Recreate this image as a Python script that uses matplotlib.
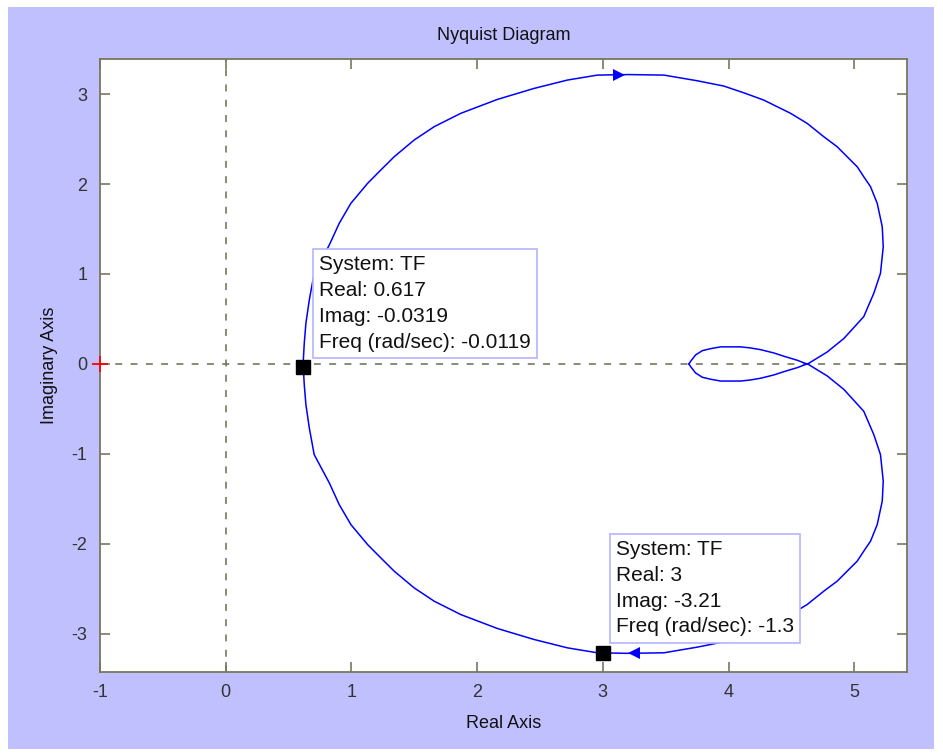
import matplotlib
matplotlib.use("Agg")
import matplotlib.pyplot as plt
from matplotlib.patches import Rectangle

# ---- data ----
# positive-frequency branch of the Nyquist curve (real, imag)
pos_re = [0.617, 0.625, 0.638, 0.665, 0.704, 0.824, 0.903, 0.996, 1.129, 1.234,
          1.340, 1.499, 1.658, 1.870, 2.162, 2.453, 2.719, 2.957, 3.200, 3.487,
          3.566, 3.752, 3.963, 4.122, 4.281, 4.494, 4.626, 4.758, 4.865, 4.970,
          5.024, 5.076, 5.130, 5.183, 5.223, 5.231, 5.209, 5.156, 5.076, 4.917,
          4.785, 4.639, 4.547, 4.440, 4.361, 4.255, 4.175, 4.096, 3.937, 3.858,
          3.792, 3.738, 3.699, 3.685]
pos_im = [0.032, 0.230, 0.452, 0.711, 1.008, 1.322, 1.563, 1.786, 2.008, 2.156,
          2.303, 2.489, 2.637, 2.786, 2.941, 3.063, 3.156, 3.211, 3.217, 3.211,
          3.192, 3.148, 3.089, 3.014, 2.933, 2.786, 2.674, 2.526, 2.414, 2.267,
          2.192, 2.081, 1.970, 1.786, 1.526, 1.303, 1.008, 0.786, 0.526, 0.282,
          0.133, 0.008, -0.041, -0.086, -0.122, -0.159, -0.178, -0.190, -0.190, -0.170,
          -0.148, -0.100, -0.030, 0.0]
# negative-frequency branch is the complex conjugate
neg_re = pos_re
neg_im = [-v for v in pos_im]

arrow_re = [3.13, 3.25]
arrow_im = [3.21, -3.21]
arrow_markers = ['>', '<']

tip_re = [0.617, 3.0]
tip_im = [-0.0319, -3.21]
tip_freq = ['-0.0119', '-1.3']
tip_real_lbl = ['0.617', '3']
tip_imag_lbl = ['-0.0319', '-3.21']
tip_text_pos = [(0.741, 1.208), (3.105, -1.959)]

xticks = [-1, 0, 1, 2, 3, 4, 5]
yticks = [-3, -2, -1, 0, 1, 2, 3]
xlim = (-1, 5.42)
ylim = (-3.42, 3.39)

# ---- styling ----
plt.rcParams['font.family'] = ['Liberation Sans', 'DejaVu Sans']
plt.rcParams['lines.scale_dashes'] = False
plt.rcParams['axes.unicode_minus'] = False
axcol = '#77775e'
lav = '#c0c0ff'
W, H = 943, 754
fig = plt.figure(figsize=(W / 100, H / 100), dpi=100, facecolor='white')
fig.patches.append(Rectangle((8 / W, 1 - 749 / H), 926 / W, 742 / H,
                             transform=fig.transFigure, facecolor=lav,
                             edgecolor='none', zorder=-10))
ax = fig.add_axes([100 / W, 1 - 671.6 / H, 807 / W, (671.6 - 59) / H])
ax.set_facecolor('white')
ax.set_xlim(*xlim)
ax.set_ylim(*ylim)

ax.axhline(0, color=axcol, lw=1.2, ls=(0, (5, 6)), zorder=1)
ax.axvline(0, color=axcol, lw=1.2, ls=(0, (5, 6)), zorder=1)

ax.plot(pos_re, pos_im, color='#0000ff', lw=1.1, zorder=3)
ax.plot(neg_re, neg_im, color='#0000ff', lw=1.1, zorder=3)
for r, i, m in zip(arrow_re, arrow_im, arrow_markers):
    ax.plot([r], [i], marker=m, color='#0000ff', ms=8, mew=0, zorder=4)

ax.plot([-1], [0], marker='+', color='red', ms=11, mew=1.3, zorder=5,
        clip_on=False)

ax.plot(tip_re, tip_im, ls='none', marker='s', color='black', ms=9.5, zorder=6)
for k in range(len(tip_re)):
    txt = ("System: TF\nReal: %s\nImag: %s\nFreq (rad/sec): %s"
           % (tip_real_lbl[k], tip_imag_lbl[k], tip_freq[k]))
    ax.text(tip_text_pos[k][0], tip_text_pos[k][1], txt, fontsize=15,
            color='#111111', va='top', ha='left', linespacing=1.45, zorder=7,
            bbox=dict(boxstyle='square,pad=0.3', facecolor='white',
                      edgecolor='#b4b4ff', lw=1.2))

ax.set_xticks(xticks)
ax.set_yticks(yticks)
ax.tick_params(direction='in', length=7, width=1.2, color=axcol,
               top=True, right=True, labelsize=13, labelcolor='#333333', pad=9)
for s in ax.spines.values():
    s.set_color(axcol)
    s.set_linewidth(1.3)

ax.set_title('Nyquist Diagram', fontsize=13, color='#111111', pad=14)
ax.set_xlabel('Real Axis', fontsize=13, color='#111111', labelpad=10)
ax.set_ylabel('Imaginary Axis', fontsize=13, color='#111111', labelpad=10)

fig.savefig('out.png', dpi=100, facecolor='white')
